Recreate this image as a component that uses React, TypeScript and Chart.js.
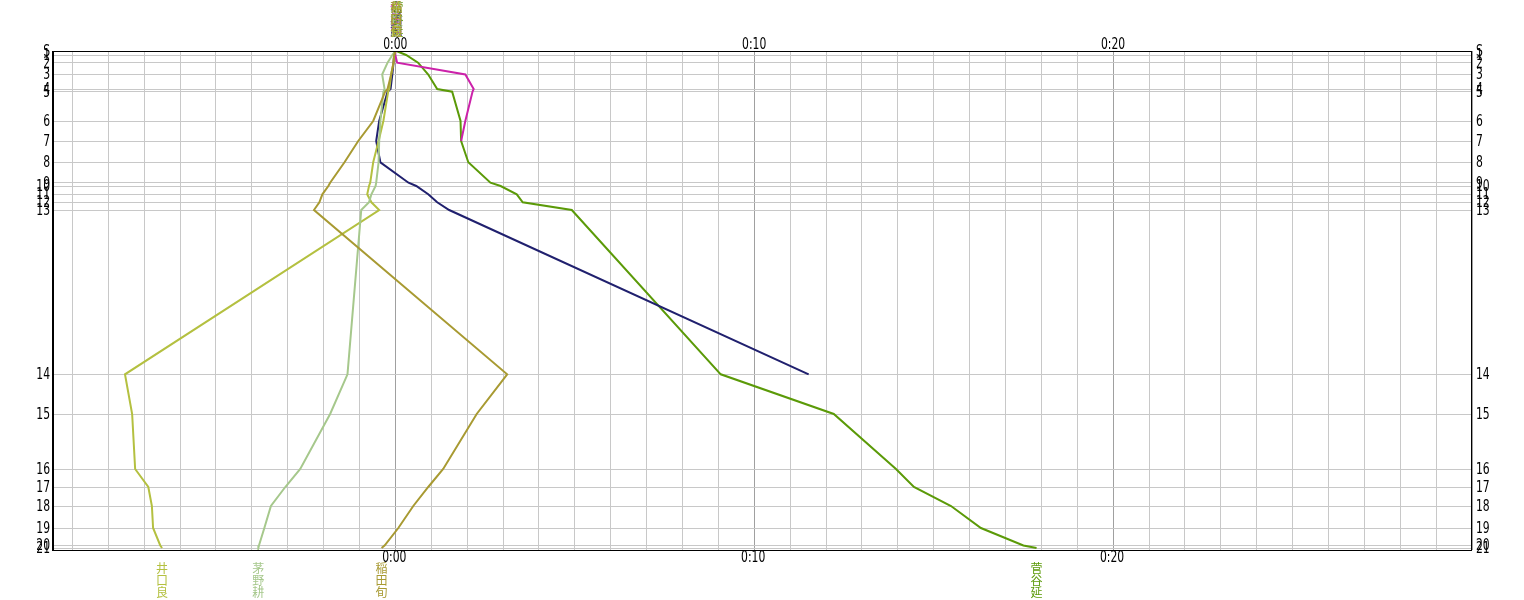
import React, { useEffect, useRef } from 'react';
import { Chart, registerables } from 'chart.js';
Chart.register(...registerables);

// Checkpoints (course position of each timing point, arbitrary distance units)
const checkpointLabels = ['S','1','2','3','4','5','6','7','8','9','10','11','12','13','14','15','16','17','18','19','20','21'];
const checkpointPos = [0, 4, 11.7, 23.5, 38, 40.7, 70, 90, 111.3, 131.7, 135, 143.3, 151.3, 159, 323.3, 363, 418, 436, 455, 477, 494.5, 497];

// Gap to reference time, in seconds, at each checkpoint
const sugaya = [2, 18, 38, 55, 70, 95, 109, 110, 122, 159, 176, 203, 213, 295, 544, 733, 837, 867, 929, 979, 1050, 1072];
const magentaRider = [0, 0, 3, 117, 131, 129, 117, 110];
const navyRider = [0, -2, -3, -5, -8, -13, -27, -32, -25, 22, 35, 55, 70, 90, 691];
const inada = [0, -2, -3, -7, -13, -17, -37, -62, -85, -109, -112, -122, -127, -136, 187, 136, 80, 55, 30, 5, -18, -23];
const kayano = [0, -5, -13, -22, -18, -20, -25, -27, -28, -32, -33, -40, -44, -57, -80, -109, -159, -184, -208, -219, -228, -229];
const iguchi = [0, -2, -3, -7, -10, -12, -20, -28, -37, -42, -44, -47, -40, -27, -452, -440, -435, -413, -407, -405, -393, -390];

const riderNames = ['菅谷延', '佐藤勝', '高橋誠', '稲田旬', '茅野耕', '井口良'];
const riderColors = ['#5b9a08', '#cc22aa', '#20206e', '#a89a32', '#a6c88c', '#b4c040'];
const riderSeries = [sugaya, magentaRider, navyRider, inada, kayano, iguchi];
const finishers = [true, false, false, true, true, true];

const xMin = -574;
const xMax = 1800;
const xTickStep = 60;
const xLabelValues = [0, 600, 1200];

function fmt(sec: number) {
  const m = Math.round(sec / 60);
  const h = Math.floor(m / 60);
  const mm = m % 60;
  return `${h}:${mm < 10 ? '0' : ''}${mm}`;
}

const NUM_FONT = '15px "DejaVu Sans", sans-serif';
const NARROW = 0.72;
const CJK_FONT = '12px "Noto Sans CJK JP", sans-serif';

function narrowText(ctx: CanvasRenderingContext2D, text: string, x: number, y: number, align: CanvasTextAlign, baseline: CanvasTextBaseline) {
  ctx.save();
  ctx.translate(x, y);
  ctx.scale(NARROW, 1);
  ctx.textAlign = align;
  ctx.textBaseline = baseline;
  ctx.fillText(text, 0, 0);
  ctx.restore();
}

const textPlugin = {
  id: 'textPlugin',
  afterDraw(chart: any) {
    const { ctx, chartArea, scales } = chart;
    const xs = scales.x;
    const ys = scales.y;
    ctx.save();
    // border
    ctx.strokeStyle = '#000';
    ctx.lineWidth = 1;
    ctx.strokeRect(chartArea.left + 0.5, chartArea.top + 0.5, chartArea.right - chartArea.left - 1, chartArea.bottom - chartArea.top);
    ctx.beginPath();
    ctx.moveTo(chartArea.left + 1.5, chartArea.top);
    ctx.lineTo(chartArea.left + 1.5, chartArea.bottom);
    ctx.stroke();

    // y labels
    ctx.font = NUM_FONT;
    ctx.fillStyle = '#000';
    checkpointLabels.forEach((lab, i) => {
      const y = ys.getPixelForValue(checkpointPos[i]) + 1;
      narrowText(ctx, lab, chartArea.left - 2, y, 'right', 'middle');
      narrowText(ctx, lab, chartArea.right + 4, y, 'left', 'middle');
    });

    // x labels
    xLabelValues.forEach((v) => {
      const x = xs.getPixelForValue(v);
      narrowText(ctx, fmt(v), x, chartArea.top - 2, 'center', 'alphabetic');
      narrowText(ctx, fmt(v), x - 1, chartArea.bottom + 1, 'center', 'top');
    });

    // names
    ctx.font = CJK_FONT;
    ctx.textAlign = 'center';
    ctx.textBaseline = 'middle';
    const topOrder = [1, 2, 0, 4, 5, 3];
    topOrder.forEach((r) => {
      const x = xs.getPixelForValue(riderSeries[r][0]);
      ctx.fillStyle = riderColors[r];
      Array.from(riderNames[r]).forEach((ch, k) => {
        ctx.fillText(ch, x + 1, 7 + k * 12);
      });
    });
    riderSeries.forEach((s, r) => {
      if (!finishers[r]) return;
      const x = xs.getPixelForValue(s[s.length - 1]);
      ctx.fillStyle = riderColors[r];
      Array.from(riderNames[r]).forEach((ch, k) => {
        ctx.fillText(ch, x, 568 + k * 12);
      });
    });
    ctx.restore();
  },
};

export default function App() {
  const ref = useRef<HTMLCanvasElement>(null);
  useEffect(() => {
    if (!ref.current) return;
    const datasets = riderSeries.map((s, r) => ({
      label: riderNames[r],
      data: s.map((v, i) => ({ x: v, y: checkpointPos[i] })),
      borderColor: riderColors[r],
      backgroundColor: riderColors[r],
      borderWidth: 2,
      pointRadius: 0,
      tension: 0,
      fill: false,
    }));
    const drawOrder = [3, 4, 5, 2, 1, 0];
    const ordered = drawOrder.map((i, k) => ({ ...datasets[i], order: k }));
    const chart = new Chart(ref.current, {
      type: 'line',
      data: { datasets: ordered },
      options: {
        animation: false,
        responsive: false,
        events: [],
        layout: { padding: { left: 52, right: 52, top: 51, bottom: 50 } },
        plugins: { legend: { display: false }, tooltip: { enabled: false } },
        scales: {
          x: {
            type: 'linear',
            min: xMin,
            max: xMax,
            ticks: { display: false },
            border: { display: false },
            grid: {
              drawTicks: false,
              color: (c: any) => (c.tick && c.tick.value % 600 === 0 ? '#a0a0a0' : '#c8c8c8'),
              lineWidth: 1,
            },
            afterBuildTicks: (axis: any) => {
              const t = [];
              for (let v = Math.ceil(xMin / xTickStep) * xTickStep; v <= xMax; v += xTickStep) t.push({ value: v });
              axis.ticks = t;
            },
          },
          y: {
            type: 'linear',
            reverse: true,
            min: 0,
            max: 499,
            ticks: { display: false },
            border: { display: false },
            grid: { drawTicks: false, color: '#c8c8c8', lineWidth: 1 },
            afterBuildTicks: (axis: any) => {
              axis.ticks = checkpointPos.map((v) => ({ value: v }));
            },
          },
        },
      },
      plugins: [textPlugin],
    });
    return () => chart.destroy();
  }, []);
  return (
    <div style={{ position: 'absolute', left: 0, top: 0, width: 1524, height: 600, background: '#fff' }}>
      <canvas ref={ref} width={1524} height={600} style={{ display: 'block' }} />
    </div>
  );
}
